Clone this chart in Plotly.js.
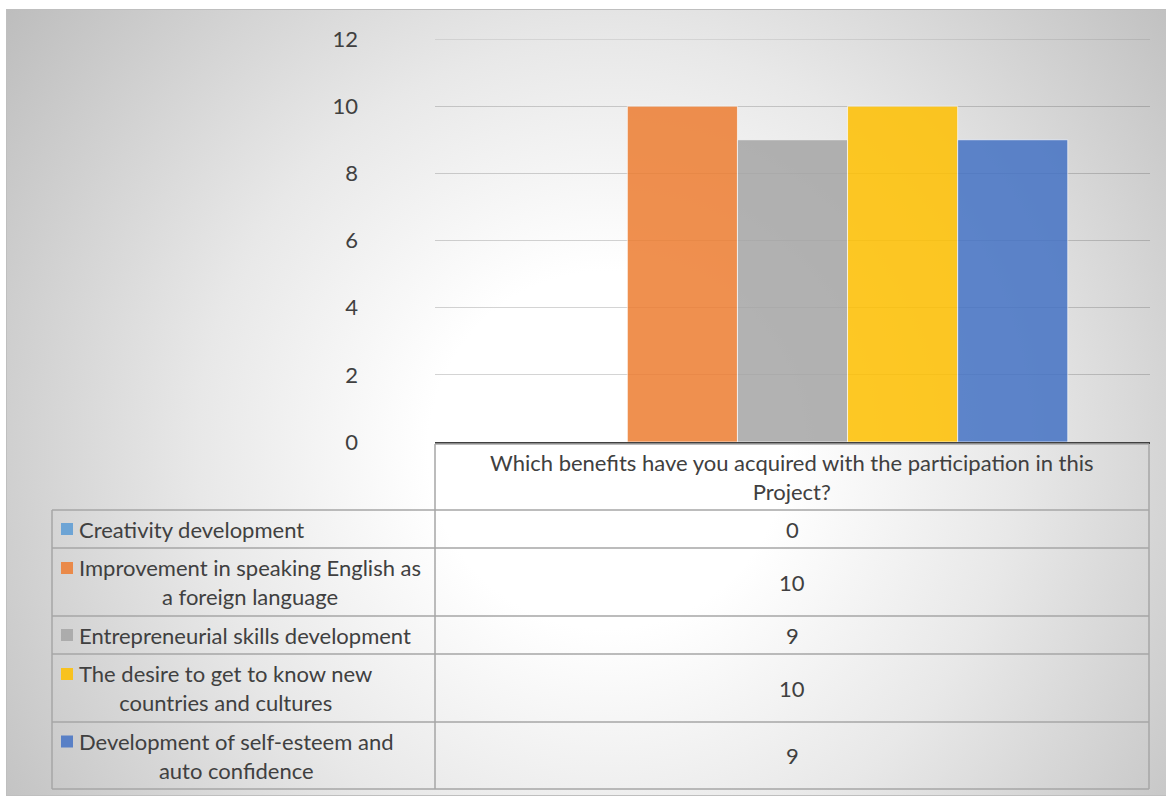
<!DOCTYPE html>
<html>
<head>
<meta charset="utf-8">
<script src="https://cdn.plot.ly/plotly-3.0.1.min.js"></script>
<style>
  html, body { margin: 0; padding: 0; background: #ffffff; width: 1166px; height: 797px; overflow: hidden; }
  #frame {
    position: absolute; left: 6px; top: 9px; width: 1159px; height: 785px;
    border: 1px solid #bfbfbf;
    background: radial-gradient(circle farthest-corner at 600px 440px, #ffffff 0%, #ffffff 24%, #e8e8e8 55%, #bdbdbd 100%);
  }
  #chart { position: absolute; left: 0; top: 0; width: 1166px; height: 797px; }
</style>
</head>
<body>
<div id="frame"></div>
<div id="chart"></div>
<script>
// ---- data ----
const category = ['Which benefits have you acquired with the participation in this Project?'];
const categoryLabel = 'Which benefits have you acquired with the participation in this<br>Project?';
const seriesNames = [
  'Creativity development',
  'Improvement in speaking English as a foreign language',
  'Entrepreneurial skills development',
  'The desire to get to know new countries and cultures',
  'Development of self-esteem and auto confidence'
];
const seriesLabels = [
  'Creativity development',
  'Improvement in speaking English as<br>a foreign language',
  'Entrepreneurial skills development',
  'The desire to get to know new<br>countries and cultures',
  'Development of self-esteem and<br>auto confidence'
];
const seriesValues = [0, 10, 9, 10, 9];
const seriesColors = ['#5B9BD5', '#ED7D31', '#A5A5A5', '#FFC000', '#4472C4'];
const yTickValues = [0, 2, 4, 6, 8, 10, 12];

// ---- layout geometry (pixels) ----
const W = 1166, H = 797;
const plotL = 435, plotR = 1150, plotT = 39, plotB = 442;
const px = x => (x - plotL) / (plotR - plotL);
const py = y => (plotB - y) / (plotB - plotT);
const tableLeft = 52, tableMid = 435, tableRight = 1149;
const headerTop = 444, headerBottom = 510;
const rowEdges = [510, 548, 616, 654, 722, 789];
const lineGap = 28;
const FONT = 'Lato, "Open Sans", sans-serif';
const FS = 22;
const TXT = '#404040';
const GRID_LINE = '#a6a6a6';
const GRID_COLOR = 'rgba(0,0,0,0.17)';

const traces = seriesNames.map((name, i) => ({
  type: 'bar',
  name: name,
  x: category,
  y: [seriesValues[i]],
  marker: { color: seriesColors[i], opacity: 0.85, line: { color: 'rgba(255,255,255,0.7)', width: 1 } },
  hoverinfo: 'name+y'
}));

const shapes = [];
const annotations = [];
const hline = (x0, x1, y) => shapes.push({ type: 'line', xref: 'paper', yref: 'paper', x0: px(x0), x1: px(x1), y0: py(y), y1: py(y), line: { color: GRID_LINE, width: 1.5 } });
const vline = (x, y0, y1) => shapes.push({ type: 'line', xref: 'paper', yref: 'paper', x0: px(x), x1: px(x), y0: py(y0), y1: py(y1), line: { color: GRID_LINE, width: 1.5 } });

// top gridline (at the range edge, which Plotly does not draw itself)
const yTop = yTickValues[yTickValues.length - 1];
shapes.push({ type: 'line', xref: 'paper', yref: 'y', x0: 0, x1: 1, y0: yTop, y1: yTop, layer: 'below', line: { color: GRID_COLOR, width: 1 } });

// table grid
hline(tableMid, tableRight, headerTop);
rowEdges.forEach(y => hline(tableLeft, tableRight, y));
vline(tableLeft, rowEdges[0], rowEdges[rowEdges.length - 1]);
vline(tableMid, headerTop, rowEdges[rowEdges.length - 1]);
vline(tableRight, headerTop, rowEdges[rowEdges.length - 1]);

// header
annotations.push({
  xref: 'paper', yref: 'paper', x: px((tableMid + tableRight) / 2), y: py((headerTop + headerBottom) / 2),
  text: categoryLabel, showarrow: false, xanchor: 'center', yanchor: 'middle', align: 'center',
  font: { family: FONT, size: FS, color: TXT }
});

// rows
seriesNames.forEach((name, i) => {
  const top = rowEdges[i], bot = rowEdges[i + 1];
  const cy = (top + bot) / 2;
  const nLines = seriesLabels[i].split('<br>').length;
  const keyY = cy - (nLines - 1) * lineGap / 2;
  shapes.push({
    type: 'rect', xref: 'paper', yref: 'paper',
    x0: px(61), x1: px(73), y0: py(keyY - 6), y1: py(keyY + 6),
    fillcolor: seriesColors[i], opacity: 0.85, line: { width: 0 }
  });
  annotations.push({
    xref: 'paper', yref: 'paper', x: px(77), y: py(cy),
    text: seriesLabels[i], showarrow: false, xanchor: 'left', yanchor: 'middle', align: 'center',
    font: { family: FONT, size: FS, color: TXT }
  });
  annotations.push({
    xref: 'paper', yref: 'paper', x: px((tableMid + tableRight) / 2), y: py(cy),
    text: String(seriesValues[i]), showarrow: false, xanchor: 'center', yanchor: 'middle',
    font: { family: FONT, size: FS, color: TXT }
  });
});

const layout = {
  width: W, height: H,
  margin: { l: plotL, r: W - plotR, t: plotT, b: H - plotB, pad: 0 },
  paper_bgcolor: 'rgba(0,0,0,0)',
  plot_bgcolor: 'rgba(0,0,0,0)',
  barmode: 'group',
  bargap: 0.23,
  bargroupgap: 0,
  showlegend: false,
  font: { family: FONT, size: FS, color: TXT },
  xaxis: {
    type: 'category', showticklabels: false, ticks: '', showgrid: false, zeroline: false,
    showline: true, linecolor: '#404040', linewidth: 1.5
  },
  yaxis: {
    range: [0, 12], tickvals: yTickValues, ticktext: yTickValues.map(String),
    showgrid: true, gridcolor: GRID_COLOR, gridwidth: 1,
    zeroline: false, showline: false, ticks: '', ticklabelstandoff: 76,
    tickfont: { family: FONT, size: FS, color: TXT }
  },
  shapes: shapes,
  annotations: annotations
};

Plotly.newPlot('chart', traces, layout, { displayModeBar: false, staticPlot: true });
</script>
</body>
</html>
